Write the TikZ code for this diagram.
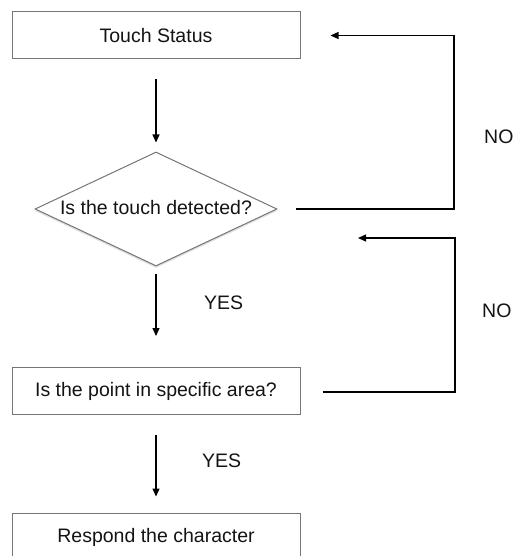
\documentclass[tikz,border=0pt]{standalone}
\usepackage{fontspec}
\setmainfont{Liberation Sans}
\usetikzlibrary{shapes.geometric,arrows.meta,shadows}
\definecolor{boxgray}{RGB}{118,118,118}
\definecolor{txt}{RGB}{20,20,20}
\tikzset{
  lbl/.style={font=\fontsize{19.5}{23}\selectfont, text=txt, inner sep=0pt},
  procbox/.style={draw=boxgray, line width=1pt, fill=white, minimum width=288pt, minimum height=47pt, inner sep=0pt, lbl},
  decision/.style={diamond, draw=boxgray, line width=1pt, fill=white, minimum width=242pt, minimum height=114pt, inner sep=0pt,
     drop shadow={opacity=0.25, shadow xshift=0pt, shadow yshift=-2pt}},
  flow/.style={draw=black, line width=1.2pt, -{Triangle[length=8pt,width=7pt]}},
}
\begin{document}
\begin{tikzpicture}[x=1pt,y=-1pt]
\useasboundingbox (0,0) rectangle (515,556);
\fill[white] (0,0) rectangle (515,556);
\clip (0,0) rectangle (515,556);

\node[procbox] (ts) at (156,35.5) {Touch Status};
\node[decision] (dia) at (156,209) {};
\node[lbl] (diatext) at (156,208) {Is the touch detected?};
\node[procbox] (area) at (156,391) {Is the point in specific area?};
\node[procbox, minimum height=48pt] (resp) at (156,537) {Respond the character};

\coordinate (c1) at (454,209);
\coordinate (c2) at (454,35.5);
\coordinate (d1) at (455,392);
\coordinate (d2) at (455,238);
\coordinate (d3) at (358,238);

\draw[flow, shorten <=20pt, shorten >=9pt] (ts.south) -- (dia.north);
\draw[flow, shorten <=7pt, shorten >=31pt] (dia.south) -- (area.north);
\draw[flow, shorten <=20pt, shorten >=16pt] (area.south) -- (resp.north);
\draw[flow, shorten <=18pt, shorten >=30pt] (dia.east) -- (c1) -- (c2) -- (ts.east);
\draw[flow, shorten <=22pt] (area.east |- d1) -- (d1) -- (d2) -- (d3);

\node[lbl, anchor=west] (no1) at (484,137) {NO};
\node[lbl, anchor=west] (no2) at (482,311) {NO};
\node[lbl, anchor=west] (yes1) at (204,303) {YES};
\node[lbl, anchor=west] (yes2) at (202,461) {YES};
\end{tikzpicture}
\end{document}
